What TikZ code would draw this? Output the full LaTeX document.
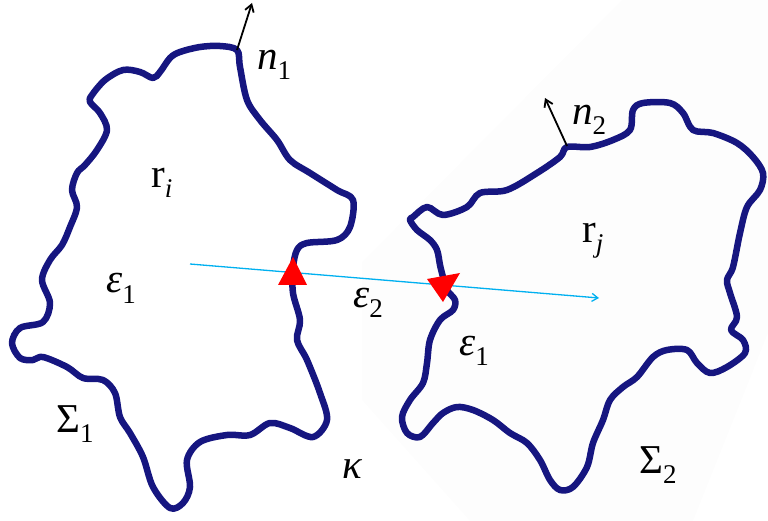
\documentclass[tikz,border=0pt]{standalone}
\usepackage{fontspec}
\setmainfont{Liberation Serif}
\usetikzlibrary{arrows.meta}
\definecolor{navy}{RGB}{22,22,128}
\definecolor{skyline}{RGB}{0,176,240}
\definecolor{faint}{RGB}{253,253,253}
\newcommand\mylbl[2]{{#1}\raisebox{-10pt}{\fontsize{27}{29}\selectfont #2}}
\tikzset{
  outline/.style={draw=navy,line width=6.5pt,line join=round,line cap=round},
  normal/.style={draw=black,line width=1.8pt,-{Straight Barb[length=7pt,width=9pt]}},
  ray/.style={draw=skyline,line width=1.3pt,-{Straight Barb[length=6pt,width=8pt]}},
  mark tri/.style={fill=red,draw=none},
  lab/.style={inner sep=0pt,anchor=base west,font=\fontsize{41}{45}\selectfont}
}
\begin{document}
\begin{tikzpicture}[x=1pt,y=-1pt]
\useasboundingbox (0,0) rectangle (768,521);
% faint background behind the right region
\fill[faint] (362,262) -- (622,0) -- (768,0) -- (768,157) -- (768,333) -- (693,521) -- (470,521) -- (362,400) -- cycle;
% left region boundary Sigma_1
\draw[outline] plot[smooth cycle,tension=0.55] coordinates {
 (237,50) (220,46) (200,47) (180,52) (170,58) (160,72) (153,78) (140,72) (123,70)
 (105,80) (92,95) (90,102) (100,113) (107,130) (97,150) (85,165) (77,173) (72,190)
 (77,207) (70,227) (62,245) (50,260) (42,280) (50,303) (43,322) (20,328) (12,343)
 (20,358) (33,360) (43,357) (67,367) (83,378) (103,380) (115,393) (120,417)
 (130,433) (143,457) (153,487) (170,508) (183,503) (190,487) (187,460) (200,442)
 (227,435) (250,435) (270,423) (290,428) (313,437) (327,420) (320,393) (307,360)
 (297,340) (300,320) (293,293) (293,268) (297,250) (307,243) (337,240) (350,227)
 (353,200) (337,190) (310,173) (290,160) (277,140) (260,120) (247,100) (240,67)};
% right region boundary Sigma_2
\draw[outline] plot[smooth cycle,tension=0.55] coordinates {
 (413,217) (427,207) (443,215) (467,207) (480,193) (507,190) (537,173) (560,157)
 (567,147) (590,147) (613,140) (630,130) (633,110) (643,103) (670,103) (683,113)
 (693,130) (713,133) (737,143) (753,157) (763,173) (760,190) (747,207) (740,233)
 (733,267) (727,280) (730,293) (737,317) (731,330) (743,340) (745,353) (727,367)
 (710,373) (697,363) (687,350) (667,350) (653,357) (637,377) (623,387) (610,400)
 (603,420) (593,443) (587,467) (573,487) (560,490) (550,480) (540,460) (527,443)
 (510,433) (493,420) (473,410) (457,407) (443,413) (433,423) (420,437) (407,433)
 (402,417) (410,400) (423,383) (427,363) (430,340) (440,320) (453,310) (455,300)
 (447,290) (443,277) (440,265) (437,250) (430,240) (417,230) (410,220)};
% normals
\coordinate (n1base) at (237,50);
\coordinate (n1tip) at (252,3);
\coordinate (n2base) at (567,146);
\coordinate (n2tip) at (545,98);
\draw[normal] (n1base) -- (n1tip);
\draw[normal] (n2base) -- (n2tip);
% ray from r_i to r_j
\coordinate (rayA) at (190,264);
\coordinate (rayB) at (599,298);
\draw[ray] (rayA) -- (rayB);
% red triangles
\fill[mark tri] (293,257) -- (307,285) -- (278,285) -- cycle;
\fill[mark tri] (427,279) -- (460,273) -- (443,302) -- cycle;
% labels
\node[lab] (ln1) at (257,70) {\mylbl{\itshape n}{1}};
\node[lab] (lri) at (151,188) {\mylbl{r}{\itshape i}};
\node[lab] (le1a) at (106,293) {\mylbl{\itshape ε}{1}};
\node[lab] (le2) at (353,307) {\mylbl{\itshape ε}{2}};
\node[lab] (le1b) at (459,355) {\mylbl{\itshape ε}{1}};
\node[lab] (lrj) at (582,243) {\mylbl{r}{\itshape j}};
\node[lab] (ln2) at (572,125) {\mylbl{\itshape n}{2}};
\node[lab] (ls1) at (56,432) {\mylbl{Σ}{1}};
\node[lab] (ls2) at (639,473) {\mylbl{Σ}{2}};
\node[lab] (lk) at (342,478) {\itshape κ};
\end{tikzpicture}
\end{document}
